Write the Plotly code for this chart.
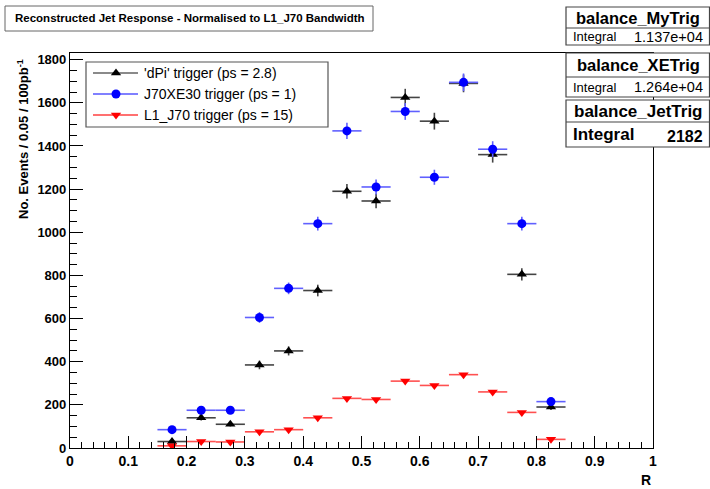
import plotly.graph_objects as go

# ---------------- data ----------------
r_centers = [0.175, 0.225, 0.275, 0.325, 0.375, 0.425, 0.475, 0.525,
             0.575, 0.625, 0.675, 0.725, 0.775, 0.825]
bin_half_width = 0.025

dpi_vals = [30, 140, 110, 385, 450, 730, 1190, 1145, 1625, 1515, 1690, 1360, 805, 190]
dpi_errs = [6, 12, 10, 20, 21, 27, 34, 34, 40, 39, 41, 37, 28, 14]

xe_vals = [85, 175, 175, 605, 740, 1040, 1470, 1210, 1560, 1255, 1695, 1385, 1040, 215]
xe_errs = [9, 13, 13, 25, 27, 32, 38, 35, 39, 35, 41, 37, 32, 15]

jet_vals = [10, 30, 28, 75, 85, 140, 230, 225, 310, 290, 340, 260, 165, 40]
jet_errs = [1, 2, 2, 3, 3, 4, 5, 5, 6, 5, 6, 5, 4, 2]

legend_labels = ["'dPi' trigger (ps = 2.8)", "J70XE30 trigger (ps = 1)", "L1_J70 trigger (ps = 15)"]
stat_names = ["balance_MyTrig", "balance_XETrig", "balance_JetTrig"]
stat_integrals = ["1.137e+04", "1.264e+04", "2182"]

title_text = "Reconstructed Jet Response - Normalised to L1_J70 Bandwidth"
x_title = "R"
y_title = "No. Events / 0.05 / 100pb<sup>-1</sup>"
x_tickvals = [0, 0.1, 0.2, 0.3, 0.4, 0.5, 0.6, 0.7, 0.8, 0.9, 1]
x_ticktext = ["0", "0.1", "0.2", "0.3", "0.4", "0.5", "0.6", "0.7", "0.8", "0.9", "1"]

# ---------------- layout geometry (pixels) ----------------
W, H = 710, 489
ML, MR, MT, MB = 70, 57, 53, 41
PW = W - ML - MR
PH = H - MT - MB
FONT = "Liberation Sans, Arial, Helvetica, sans-serif"


def px(x):
    return (x - ML) / PW


def py(y):
    return (H - MB - y) / PH


series = [
    dict(y=dpi_vals, e=dpi_errs, sym="triangle-up", col="black", ecol="#444444", lcol="#8a8a8a"),
    dict(y=xe_vals, e=xe_errs, sym="circle", col="#0000ff", ecol="#6060ff", lcol="#8080ff"),
    dict(y=jet_vals, e=jet_errs, sym="triangle-down", col="#ff0000", ecol="#ff5050", lcol="#ff7070"),
]

fig = go.Figure()
for s, name in zip(series, legend_labels):
    fig.add_trace(go.Scatter(
        x=r_centers, y=s["y"], mode="markers", name=name, showlegend=False,
        marker=dict(symbol=s["sym"], color=s["col"], size=9, line=dict(width=0)),
        error_x=dict(type="constant", value=bin_half_width, width=0, thickness=1.6, color=s["ecol"]),
        error_y=dict(type="data", array=s["e"], width=0, thickness=1.6, color=s["ecol"]),
    ))

# legend (manual, on overlay axes in paper-like coords)
leg_rows = [73, 94, 115]
leg_x0, leg_x1, leg_mx, leg_tx = 93, 138, 116, 142
shapes = []
annotations = []
shapes.append(dict(type="rect", xref="paper", yref="paper",
                   x0=px(86), x1=px(328), y0=py(127), y1=py(62),
                   line=dict(color="#555555", width=1.2), fillcolor="white", layer="below"))
for s, name, yy in zip(series, legend_labels, leg_rows):
    shapes.append(dict(type="line", xref="paper", yref="paper",
                       x0=px(leg_x0), x1=px(leg_x1), y0=py(yy), y1=py(yy),
                       line=dict(color=s["lcol"], width=1.8), layer="below"))
    annotations.append(dict(xref="paper", yref="paper", x=px(leg_tx), y=py(yy),
                            xanchor="left", yanchor="middle", showarrow=False,
                            text=name, font=dict(family=FONT, size=14, color="black")))
fig.add_trace(go.Scatter(
    x=[px(leg_mx)] * 3, y=[py(v) for v in leg_rows], mode="markers", showlegend=False,
    xaxis="x2", yaxis="y2", hoverinfo="skip",
    marker=dict(symbol=[s["sym"] for s in series], color=[s["col"] for s in series], size=9,
                line=dict(width=0)),
))

# title box
shapes.append(dict(type="rect", xref="paper", yref="paper",
                   x0=px(5), x1=px(373), y0=py(31), y1=py(6),
                   line=dict(color="#666666", width=1), fillcolor="white", layer="above"))
annotations.append(dict(xref="paper", yref="paper", x=px(190), y=py(18.5),
                        xanchor="center", yanchor="middle", showarrow=False, text=title_text,
                        font=dict(family=FONT, size=11.5, color="black", weight="bold")))

# stat boxes
boxes = [(7, 28, 45), (53, 77, 97), (100, 122, 147)]
for i, ((top, mid, bot), nm, integ) in enumerate(zip(boxes, stat_names, stat_integrals)):
    shapes.append(dict(type="rect", xref="paper", yref="paper",
                       x0=px(566), x1=px(709.5), y0=py(bot), y1=py(top),
                       line=dict(color="#444444", width=1.2), fillcolor="white", layer="above"))
    shapes.append(dict(type="line", xref="paper", yref="paper",
                       x0=px(566), x1=px(709.5), y0=py(mid), y1=py(mid),
                       line=dict(color="#444444", width=1.2), layer="above"))
    big = (i == 2)
    annotations.append(dict(xref="paper", yref="paper", x=px(638), y=py((top + mid) / 2 + 0.5),
                            xanchor="center", yanchor="middle", showarrow=False, text=nm,
                            font=dict(family=FONT, size=17 if big else 16.5, color="black", weight="bold")))
    annotations.append(dict(xref="paper", yref="paper", x=px(571), y=py((mid + bot) / 2),
                            xanchor="left", yanchor="middle", showarrow=False, text="Integral",
                            font=dict(family=FONT, size=17 if big else 13, color="black",
                                      weight="bold" if big else "normal")))
    annotations.append(dict(xref="paper", yref="paper", x=px(705), y=py((mid + bot) / 2 + (1.5 if big else 0)),
                            xanchor="right", yanchor="middle", showarrow=False, text=integ,
                            font=dict(family=FONT, size=16 if big else 14.5, color="black",
                                      weight="bold" if big else "normal")))

# axis titles
annotations.append(dict(xref="paper", yref="paper", x=px(653), y=py(470),
                        xanchor="right", yanchor="top", showarrow=False, text=x_title,
                        font=dict(family=FONT, size=14, color="black", weight="bold")))
annotations.append(dict(xref="paper", yref="paper", x=px(23), y=py(57),
                        xanchor="center", yanchor="top", showarrow=False, text=y_title,
                        textangle=-90,
                        font=dict(family=FONT, size=13, color="black", weight="bold")))

fig.update_layout(
    width=W, height=H, autosize=False,
    margin=dict(l=ML, r=MR, t=MT, b=MB, pad=0),
    paper_bgcolor="white", plot_bgcolor="white",
    shapes=shapes, annotations=annotations,
    xaxis=dict(range=[0, 1], tickmode="array", tickvals=x_tickvals, ticktext=x_ticktext,
               ticks="inside", ticklen=12, tickwidth=1, tickangle=0, automargin=False,
               tickcolor="black", showline=True, linecolor="black", linewidth=1.2, mirror=True,
               showgrid=False, zeroline=False,
               tickfont=dict(family=FONT, size=14, color="black", weight="bold"),
               minor=dict(dtick=0.02, tick0=0, ticks="inside", ticklen=6, tickcolor="black",
                          tickwidth=1, showgrid=False)),
    yaxis=dict(range=[0, 1831], dtick=200, tick0=0, ticks="inside", ticklen=13, tickwidth=1,
               automargin=False,
               tickcolor="black", showline=True, linecolor="black", linewidth=1.2, mirror=True,
               showgrid=False, zeroline=False,
               tickfont=dict(family=FONT, size=13, color="black", weight="bold"),
               minor=dict(dtick=50, ticks="inside", ticklen=7, tickcolor="black", tickwidth=1,
                          showgrid=False)),
    xaxis2=dict(range=[0, 1], overlaying="x", visible=False, fixedrange=True),
    yaxis2=dict(range=[0, 1], overlaying="y", visible=False, fixedrange=True),
)

fig.write_html("out.html")
